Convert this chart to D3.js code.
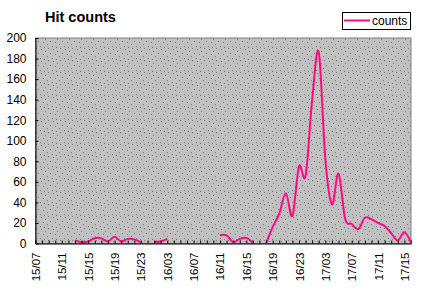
<!DOCTYPE html>
<html>
<head>
<meta charset="utf-8">
<script src="https://cdn.jsdelivr.net/npm/d3@7"></script>
<style>
  html, body { margin: 0; padding: 0; background: #fff; }
  svg { display: block; font-family: "Liberation Sans", Arial, sans-serif; }
</style>
</head>
<body>
<svg id="chart" width="430" height="296"></svg>
<script>
const categories = [
  "15/07","15/08","15/09","15/10","15/11","15/12","15/13","15/14","15/15","15/16",
  "15/17","15/18","15/19","15/20","15/21","15/22","15/23","16/00","16/01","16/02",
  "16/03","16/04","16/05","16/06","16/07","16/08","16/09","16/10","16/11","16/12",
  "16/13","16/14","16/15","16/16","16/17","16/18","16/19","16/20","16/21","16/22",
  "16/23","17/00","17/01","17/02","17/03","17/04","17/05","17/06","17/07","17/08",
  "17/09","17/10","17/11","17/12","17/13","17/14","17/15","17/16"
];
const counts = [
  null, null, null, null, null, null, 3, 1.3, 2, 5.2,
  5, 2, 6.5, 2, 4.5, 4, 1.2, null, 1.5, 2,
  4.5, null, null, null, null, null, null, null, 8, 8,
  1.2, 4.5, 5.5, 0.5, null, 0, 16, 29, 49, 27,
  75, 66, 140, 186, 82, 38, 68, 24, 19, 14,
  25, 23.5, 20, 17, 10, 3, 11, 1
];
const yTicks = [0, 20, 40, 60, 80, 100, 120, 140, 160, 180, 200];
const seriesName = "counts";
const titleText = "Hit counts";

const svg = d3.select("#chart");
const L = 35.5, R = 411, T = 38, B = 243.5;

const x = d3.scalePoint().domain(categories).range([L, R]);
const y = d3.scaleLinear().domain([0, 200]).range([B, T]);

// pattern background
const defs = svg.append("defs");
const pat = defs.append("pattern").attr("id", "dots")
  .attr("patternUnits", "userSpaceOnUse").attr("width", 12).attr("height", 12);
pat.append("rect").attr("width", 12).attr("height", 12).attr("fill", "#c0c0c0");
[[0,0],[5,1],[9,3],[2,5],[7,6],[11,8],[4,10],[8,11]].forEach(([a,b]) => {
  pat.append("rect").attr("x", a).attr("y", b).attr("width", 1).attr("height", 1).attr("fill", "#808080");
});
defs.append("clipPath").attr("id", "clip").append("rect")
  .attr("x", L).attr("y", T).attr("width", R - L).attr("height", B - T);

svg.append("rect").attr("x", L).attr("y", T).attr("width", R - L).attr("height", B - T)
  .attr("fill", "url(#dots)").attr("stroke", "#808080").attr("stroke-width", 1);

// line
const line = d3.line()
  .defined(d => d != null)
  .x((d, i) => x(categories[i]))
  .y(d => y(d))
  .curve(d3.curveCardinal.tension(0));

svg.append("path").datum(counts)
  .attr("clip-path", "url(#clip)")
  .attr("fill", "none").attr("stroke", "#ff0a84").attr("stroke-width", 2)
  .attr("stroke-linejoin", "round")
  .attr("d", line);

// y axis
const yAxis = d3.axisLeft(y).tickValues(yTicks).tickSizeInner(-3).tickSizeOuter(0).tickPadding(9);
const gy = svg.append("g").attr("transform", `translate(${L},0)`).call(yAxis);
gy.selectAll("text").attr("font-size", 12).attr("fill", "#000").attr("font-family", "Liberation Sans, Arial, sans-serif");
gy.selectAll("line, path").attr("stroke", "#000");

// x axis
const xAxis = d3.axisBottom(x).tickSizeInner(-3).tickSizeOuter(0).tickPadding(0)
  .tickFormat((d, i) => (i % 4 === 0 ? d : ""));
const gx = svg.append("g").attr("transform", `translate(0,${B})`).call(xAxis);
gx.selectAll("line, path").attr("stroke", "#000");
gx.selectAll("text")
  .attr("font-size", 11.5).attr("fill", "#000").attr("font-family", "Liberation Sans, Arial, sans-serif")
  .attr("transform", "rotate(-90)")
  .attr("text-anchor", "end")
  .attr("x", -9).attr("y", 0).attr("dy", "0.35em");

// title
svg.append("text").attr("x", 45).attr("y", 22)
  .attr("font-size", 14.5).attr("font-weight", "bold").attr("fill", "#000")
  .text(titleText);

// legend
svg.append("rect").attr("x", 342.5).attr("y", 12.5).attr("width", 68).attr("height", 17)
  .attr("fill", "#fff").attr("stroke", "#000").attr("stroke-width", 1);
svg.append("line").attr("x1", 344).attr("x2", 370).attr("y1", 20.5).attr("y2", 20.5)
  .attr("stroke", "#ff0a84").attr("stroke-width", 2);
svg.append("text").attr("x", 372).attr("y", 25).attr("font-size", 12).attr("fill", "#000")
  .text(seriesName);
</script>
</body>
</html>
